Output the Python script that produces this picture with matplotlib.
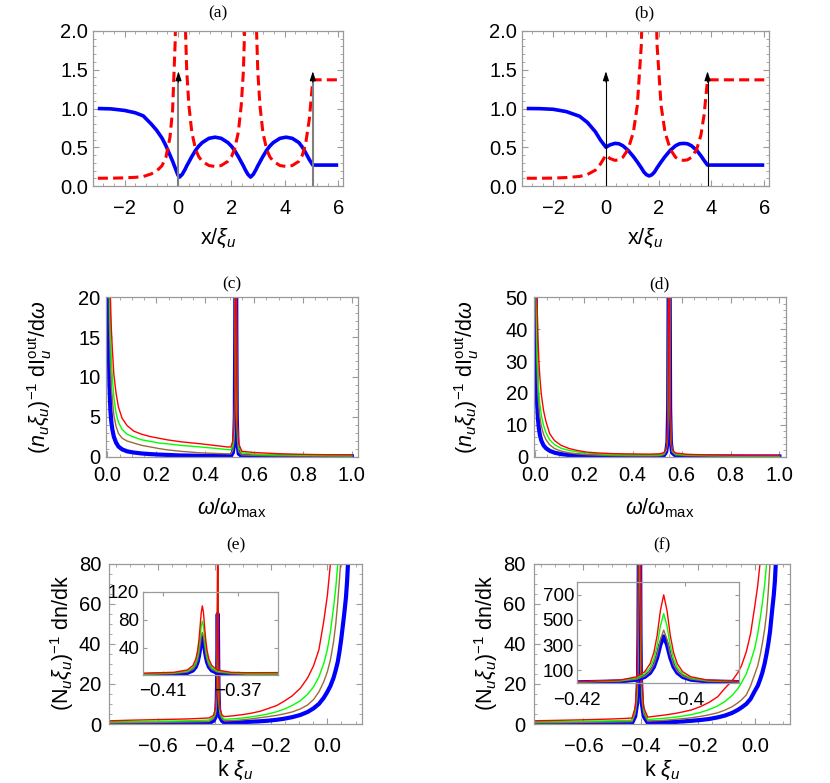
import numpy as np
import matplotlib.pyplot as plt
from matplotlib.ticker import AutoMinorLocator, FuncFormatter, MultipleLocator

plt.rcParams['font.family'] = ['Liberation Sans', 'DejaVu Sans']
plt.rcParams['mathtext.fontset'] = 'custom'
plt.rcParams['mathtext.rm'] = 'Liberation Sans'
plt.rcParams['mathtext.it'] = 'Liberation Sans:italic'

# ---------------- (a) density profile / velocity -----------------
xa = [-3.00, -2.50, -2.00, -1.60, -1.30, -1.00, -0.80, -0.60, -0.45, -0.30, -0.20, -0.10,
      0.00, 0.06, 0.16, 0.26, 0.33, 0.41, 0.52, 0.66, 0.78, 0.91, 1.16, 1.39, 1.62, 1.87,
      2.00, 2.12, 2.26, 2.37, 2.45, 2.52, 2.62, 2.72, 2.82, 2.92, 2.99, 3.07, 3.18, 3.32,
      3.44, 3.57, 3.82, 4.05, 4.28, 4.53, 4.66, 4.78, 4.92, 5.05, 6.00]
blue_a = [1.000, 0.995, 0.975, 0.945, 0.905, 0.800, 0.720, 0.620, 0.520, 0.400, 0.320, 0.230,
          0.140, 0.115, 0.150, 0.210, 0.260, 0.310, 0.380, 0.460, 0.515, 0.560, 0.615, 0.630,
          0.615, 0.560, 0.515, 0.460, 0.380, 0.310, 0.260, 0.210, 0.150, 0.115, 0.150, 0.210,
          0.260, 0.310, 0.380, 0.460, 0.515, 0.560, 0.615, 0.630, 0.615, 0.560, 0.500, 0.430,
          0.340, 0.270, 0.270]
red_a = [0.100, 0.101, 0.105, 0.112, 0.122, 0.156, 0.193, 0.260, 0.370, 0.625, 0.977, 1.890,
         5.10, 7.56, 4.44, 2.27, 1.48, 1.04, 0.693, 0.473, 0.377, 0.319, 0.264, 0.252,
         0.264, 0.319, 0.377, 0.473, 0.693, 1.04, 1.48, 2.27, 4.44, 7.56, 4.44, 2.27,
         1.48, 1.04, 0.693, 0.473, 0.377, 0.319, 0.264, 0.252, 0.264, 0.319, 0.400, 0.541,
         0.865, 1.37, 1.37]
arrows_a = [0.02, 5.05]

# ---------------- (b) -----------------
xb = [-3.0, -2.5, -2.0, -1.5, -1.0, -0.7, -0.4, -0.2, 0.0, 0.15, 0.34, 0.49, 0.64, 0.84,
      1.04, 1.19, 1.34, 1.44, 1.54, 1.64, 1.74, 1.84, 1.94, 2.09, 2.24, 2.44, 2.64, 2.79,
      2.94, 3.09, 3.24, 3.44, 3.60, 3.72, 3.85, 6.0]
blue_b = [1.0, 0.998, 0.99, 0.96, 0.90, 0.82, 0.70, 0.59, 0.50, 0.53, 0.55, 0.545, 0.52, 0.46,
          0.38, 0.31, 0.235, 0.18, 0.145, 0.13, 0.145, 0.18, 0.235, 0.31, 0.38, 0.46, 0.52,
          0.545, 0.55, 0.545, 0.52, 0.46, 0.39, 0.33, 0.27, 0.27]
red_b = [0.100, 0.100, 0.102, 0.109, 0.123, 0.149, 0.204, 0.287, 0.400, 0.356, 0.331, 0.337,
         0.370, 0.473, 0.693, 1.04, 1.81, 3.09, 4.76, 5.92, 4.76, 3.09, 1.81, 1.04, 0.693,
         0.473, 0.370, 0.337, 0.331, 0.337, 0.370, 0.473, 0.657, 0.918, 1.37, 1.37]
arrows_b = [0.0, 3.85]
arrow_top = 1.48

# ---------------- (c) spectrum -----------------
w_c = [0.002, 0.005, 0.008, 0.012, 0.016, 0.02, 0.026, 0.035, 0.045, 0.06, 0.08, 0.107,
       0.14, 0.176, 0.21, 0.244, 0.3, 0.38, 0.45, 0.49, 0.505, 0.513, 0.518, 0.521, 0.523,
       0.525, 0.527, 0.529, 0.532, 0.537, 0.55, 0.6, 0.7, 0.8, 0.9, 1.0]
red_c = [120, 48, 30, 20, 16, 13.5, 10.4, 8.0, 6.2, 4.8, 3.9, 3.2, 2.8, 2.5, 2.3, 2.1, 1.85,
         1.6, 1.35, 1.2, 1.2, 2.0, 4, 9, 25, 60, 25, 9, 4, 1.6, 0.65, 0.5, 0.35, 0.27, 0.22, 0.2]
green_c = [90, 36, 22, 15.5, 12, 10, 7.5, 5.5, 4.3, 3.4, 2.8, 2.45, 2.1, 1.9, 1.7, 1.6, 1.4,
           1.2, 1.0, 0.87, 0.85, 1.4, 3, 7.5, 22, 60, 22, 7.5, 3, 1.1, 0.45, 0.3, 0.2, 0.15,
           0.12, 0.1]
brown_c = [70, 28, 17, 11.5, 8.8, 7.2, 5.2, 3.8, 2.9, 2.3, 1.95, 1.7, 1.4, 1.2, 1.0, 0.84,
           0.65, 0.46, 0.38, 0.34, 0.33, 0.8, 2, 5.5, 18, 60, 18, 5.5, 2, 0.6, 0.2, 0.14, 0.09,
           0.07, 0.06, 0.05]
blue_c = [38, 15, 9, 5.8, 4.3, 3.4, 2.5, 1.75, 1.25, 0.9, 0.65, 0.5, 0.38, 0.3, 0.24, 0.2,
          0.13, 0.09, 0.07, 0.06, 0.06, 0.5, 1.6, 5, 17, 60, 17, 5, 1.6, 0.35, 0.04, 0.03,
          0.02, 0.015, 0.012, 0.01]

# ---------------- (d) -----------------
w_d = [0.002, 0.005, 0.008, 0.012, 0.016, 0.02, 0.026, 0.035, 0.045, 0.06, 0.08, 0.107,
       0.14, 0.176, 0.21, 0.26, 0.32, 0.4, 0.47, 0.51, 0.528, 0.537, 0.542, 0.545, 0.547,
       0.549, 0.551, 0.553, 0.556, 0.561, 0.575, 0.62, 0.7, 0.8, 0.9, 1.0]
red_d = [160, 70, 50, 38, 30, 25, 19.5, 14.5, 11, 7.2, 5.0, 3.5, 2.5, 1.85, 1.4, 1.1, 0.9,
         0.8, 0.75, 0.85, 1.2, 2.5, 6, 18, 60, 150, 60, 18, 6, 2.2, 1.1, 0.7, 0.5, 0.4, 0.33, 0.3]
green_d = [120, 55, 36, 26, 20, 16.5, 13, 9.8, 7.5, 5.3, 3.7, 2.6, 1.9, 1.4, 1.1, 0.8, 0.6,
           0.48, 0.45, 0.5, 0.9, 2.2, 5.5, 17, 58, 150, 58, 17, 5.5, 1.9, 0.8, 0.5, 0.33, 0.25,
           0.2, 0.17]
brown_d = [100, 45, 29, 20, 15.5, 12.5, 9.6, 7.0, 5.3, 3.7, 2.5, 1.7, 1.15, 0.8, 0.6, 0.42,
           0.3, 0.22, 0.2, 0.25, 0.6, 1.8, 5, 16, 56, 150, 56, 16, 5, 1.5, 0.5, 0.3, 0.18, 0.12,
           0.1, 0.08]
blue_d = [70, 30, 18, 12, 8.8, 6.8, 5.0, 3.5, 2.6, 1.8, 1.2, 0.75, 0.45, 0.3, 0.2, 0.13, 0.09,
          0.06, 0.05, 0.08, 0.4, 1.5, 4.5, 15, 55, 150, 55, 15, 4.5, 1.2, 0.3, 0.1, 0.05, 0.03,
          0.02, 0.02]

# ---------------- (e) momentum distribution -----------------
k_e = ([-0.77, -0.70, -0.60, -0.50, -0.45, -0.42]
       + [-0.4042, -0.397, -0.394, -0.3925, -0.3915, -0.3908, -0.3902, -0.3896, -0.389,
          -0.3884, -0.3878, -0.3872, -0.3865, -0.3855, -0.384, -0.381, -0.3738]
       + [-0.365, -0.333, -0.30, -0.273, -0.24, -0.214, -0.18, -0.155, -0.125, -0.096, -0.07,
          -0.049, -0.03, -0.013, 0.0, 0.011, 0.022, 0.03, 0.037, 0.043, 0.049, 0.055, 0.06,
          0.066, 0.07, 0.074, 0.078])
red_e = ([1.6, 1.9, 2.2, 2.5, 2.8, 3.0]
         + [4.3, 7.7, 14.2, 23.3, 36.1, 51.5, 70.1, 90.3, 100, 90.3, 70.1, 51.5, 36.1, 23.3,
            14.2, 7.7, 4.3]
         + [3.7, 4.1, 4.7, 5.3, 6.3, 7.5, 9.2, 11.2, 14, 17.8, 23, 29, 37, 51, 64, 80, 105,
            130, 160, 190, 230, 280, 330, 390, 440, 500, 560])
green_e = ([1.0, 1.15, 1.35, 1.6, 1.8, 1.95]
           + [3.5, 6.1, 11.2, 18.3, 28.2, 40.3, 54.7, 70.5, 78, 70.5, 54.7, 40.3, 28.2, 18.3,
              11.2, 6.1, 3.5]
           + [2.3, 2.6, 3.0, 3.5, 4.2, 4.9, 6.1, 7.3, 9.2, 11.6, 14.8, 18.5, 23.5, 30, 37, 46,
              58, 68, 80, 95, 115, 140, 170, 210, 250, 300, 360])
brown_e = ([0.55, 0.65, 0.8, 1.0, 1.15, 1.25]
           + [2.6, 4.7, 8.7, 14.3, 22.3, 31.8, 43.3, 55.8, 61.8, 55.8, 43.3, 31.8, 22.3, 14.3,
              8.7, 4.7, 2.6]
           + [1.5, 1.75, 2.1, 2.5, 3.1, 3.6, 4.3, 5.0, 6.0, 7.5, 9.5, 12.2, 16, 21, 26, 32, 41,
              50, 61, 72, 84, 104, 125, 155, 180, 210, 250])
blue_e = ([0.2, 0.25, 0.3, 0.4, 0.45, 0.5]
          + [1.55, 3.4, 7.0, 12.1, 19.2, 27.8, 38.2, 49.4, 54.8, 49.4, 38.2, 27.8, 19.2, 12.1,
             7.0, 3.4, 1.55]
          + [0.65, 0.75, 0.9, 1.1, 1.35, 1.6, 2.1, 2.6, 3.4, 4.5, 6.0, 7.8, 10, 13, 16, 19, 23,
             27, 31, 36, 42, 49, 55, 63, 71, 82, 100])

# ---------------- (f) -----------------
k_f = ([-0.775, -0.70, -0.60, -0.50, -0.45, -0.43]
       + [-0.419, -0.412, -0.409, -0.4075, -0.4065, -0.4058, -0.4052, -0.4046, -0.404,
          -0.4034, -0.4028, -0.4022, -0.4015, -0.4005, -0.399, -0.396, -0.389]
       + [-0.375, -0.36, -0.33, -0.30, -0.281, -0.25, -0.222, -0.19, -0.16, -0.13, -0.105,
          -0.08, -0.06, -0.047, -0.03, -0.015, 0.0, 0.01, 0.018, 0.026, 0.034, 0.041, 0.047,
          0.053, 0.06, 0.066, 0.07, 0.074, 0.078])
red_f = ([1.6, 1.8, 2.1, 2.5, 2.8, 3.0]
         + [8.2, 21, 47, 87, 151, 242, 379, 577, 700, 577, 379, 242, 151, 87, 47, 21, 8.2]
         + [3.4, 3.7, 4.2, 4.8, 5.2, 6.1, 7.0, 8.7, 10.8, 13.6, 17.8, 21.5, 25.5, 29, 36, 45,
            59, 69, 80, 100, 125, 150, 180, 220, 270, 320, 360, 400, 450])
green_f = ([1.0, 1.15, 1.35, 1.6, 1.8, 1.9]
           + [7.1, 17, 37.5, 69, 120, 191, 298, 454, 550, 454, 298, 191, 120, 69, 37.5, 17, 7.1]
           + [2.2, 2.4, 2.7, 3.1, 3.4, 4.0, 4.7, 5.8, 7.2, 9.0, 11.2, 14.2, 17.5, 20.5, 25, 31,
              38, 45, 52, 60, 69, 80, 95, 115, 140, 170, 200, 240, 280])
brown_f = ([0.55, 0.65, 0.8, 1.0, 1.1, 1.2]
           + [5.1, 12.7, 28, 52, 91, 145, 227, 346, 419, 346, 227, 145, 91, 52, 28, 12.7, 5.1]
           + [1.4, 1.55, 1.75, 2.05, 2.3, 2.7, 3.1, 3.8, 4.6, 5.6, 6.9, 8.6, 10.5, 12, 14.5, 19,
              25, 29, 34, 40, 47, 55, 66, 80, 98, 120, 140, 165, 200])
blue_f = ([0.2, 0.25, 0.3, 0.4, 0.45, 0.5]
          + [3.8, 10.5, 24, 45.5, 79, 127, 200, 304, 369, 304, 200, 127, 79, 45.5, 24, 10.5, 3.8]
          + [0.6, 0.7, 0.8, 0.9, 1.0, 1.3, 1.6, 2.0, 2.5, 3.3, 4.2, 5.5, 7.0, 8.2, 10, 12.5,
             16.5, 19, 22, 25.5, 30, 35, 40, 46, 56, 64, 71, 82, 100])

RED, GREEN, BROWN, BLUE = '#ff0000', '#00ff00', '#9c6a3a', '#0000ff'
FRAME = '#9a9a9a'
W, H = 830, 783
TICK_FS = 14.5
LAB_FS = 15.5

fig = plt.figure(figsize=(8.3, 7.83), dpi=100)


def add_ax(x0, y0, x1, y1):
    return fig.add_axes([x0 / W, 1 - y1 / H, (x1 - x0) / W, (y1 - y0) / H])


def fmt(dec):
    def f(v, pos):
        if abs(v) < 1e-9:
            v = 0.0
        return f'{v:.{dec}f}'.replace('-', '\u2212')
    return FuncFormatter(f)


def style(ax, xpad, ypad, size=TICK_FS):
    for s in ax.spines.values():
        s.set_color(FRAME)
        s.set_linewidth(0.9)
    ax.tick_params(which='both', direction='in', top=True, right=True, color=FRAME,
                   labelsize=size)
    ax.tick_params(which='major', length=4, width=0.8)
    ax.tick_params(which='minor', length=2.2, width=0.6)
    ax.tick_params(axis='x', pad=xpad)
    ax.tick_params(axis='y', pad=ypad)


def label_at(ax, xl, yl, xlab_px, ylab_px):
    if xl:
        ax.set_xlabel(xl, fontsize=LAB_FS)
        ax.xaxis.label.set_va('center')
        ax.xaxis.set_label_coords(xlab_px[0] / W, 1 - xlab_px[1] / H, transform=fig.transFigure)
    if yl:
        ax.set_ylabel(yl, fontsize=LAB_FS)
        ax.yaxis.label.set_va('center')
        ax.yaxis.set_label_coords(ylab_px[0] / W, 1 - ylab_px[1] / H, transform=fig.transFigure)


def title_at(txt, x, y):
    fig.text(x / W, 1 - y / H, txt, ha='center', va='center', fontsize=12.5,
             family='Liberation Serif')


# ---- top row ----
for ax_box, xs, bl, rd, arrows, arrow_col, arrow_lw, title, tx in [
        ((93, 31, 343, 186), xa, blue_a, red_a, arrows_a, '#7f7f7f', 1.5, '(a)', 218),
        ((522, 31, 769, 186), xb, blue_b, red_b, arrows_b, 'k', 0.8, '(b)', 644)]:
    ax = add_ax(*ax_box)
    ax.plot(xs, bl, color=BLUE, lw=2.6, solid_capstyle='butt')
    ax.plot(xs, rd, color=RED, lw=2.2, dashes=(3.3, 1.7))
    for xv in arrows:
        ax.plot([xv, xv], [0, arrow_top - 0.1], color=arrow_col, lw=arrow_lw, zorder=5)
        ax.annotate('', xy=(xv, arrow_top), xytext=(xv, arrow_top - 0.14),
                    arrowprops=dict(arrowstyle='-|>,head_length=0.55,head_width=0.18',
                                    color='k', lw=0.8, shrinkA=0, shrinkB=0), zorder=6)
    ax.set_xlim(-3.18, 6.18)
    ax.set_ylim(0, 2)
    ax.xaxis.set_major_locator(MultipleLocator(2))
    ax.xaxis.set_minor_locator(AutoMinorLocator(5))
    ax.yaxis.set_major_locator(MultipleLocator(0.5))
    ax.yaxis.set_minor_locator(AutoMinorLocator(5))
    ax.xaxis.set_major_formatter(fmt(0))
    ax.yaxis.set_major_formatter(fmt(1))
    style(ax, 9, 3.4)
    label_at(ax, r'x/$\xi_u$', None, ((ax_box[0] + ax_box[2]) / 2, 238), None)
    title_at(title, tx, 13)

# ---- middle row ----
ylab_c = r'$(n_u\xi_u)^{-1}\ \mathrm{dI}_u^{\mathrm{out}}/\mathrm{d}\omega$'
for ax_box, w, curves, ymax, ymaj, title, ylx in [
        ((106, 297.5, 358, 456.5), w_c, (red_c, green_c, brown_c, blue_c), 20, 5, '(c)', 40),
        ((533.5, 297.5, 785.5, 456.5), w_d, (red_d, green_d, brown_d, blue_d), 50, 10, '(d)', 467)]:
    ax = add_ax(*ax_box)
    r, g, b, bl = curves
    ax.plot(w, bl, color=BLUE, lw=3.0)
    ax.plot(w, b, color=BROWN, lw=1.0)
    ax.plot(w, g, color=GREEN, lw=1.0)
    ax.plot(w, r, color=RED, lw=1.0)
    ax.set_xlim(-0.006, 1.025)
    ax.set_ylim(0, ymax)
    ax.xaxis.set_major_locator(MultipleLocator(0.2))
    ax.xaxis.set_minor_locator(AutoMinorLocator(4))
    ax.yaxis.set_major_locator(MultipleLocator(ymaj))
    ax.yaxis.set_minor_locator(AutoMinorLocator(5))
    ax.xaxis.set_major_formatter(fmt(1))
    ax.yaxis.set_major_formatter(fmt(0))
    style(ax, 7, 4.0)
    cx = (ax_box[0] + ax_box[2]) / 2
    label_at(ax, r'$\omega/\omega_{\mathrm{max}}$', ylab_c, (cx, 508), (ylx, 377))
    title_at(title, cx, 284)

# ---- bottom row ----
ylab_e = r'$(\mathrm{N}_u\xi_u)^{-1}$ dn/dk'
bottom = [
    ((109, 563.5, 362, 724), k_e, (red_e, green_e, brown_e, blue_e), '(e)', 62,
     (142.7, 592, 278.3, 675.3), (-0.4208, -0.3485), (0, 120), [-0.41, -0.37],
     ['\u22120.41', '\u22120.37'], [40, 80, 120], 2.5, 5.5),
    ((533.5, 563.5, 790, 724), k_f, (red_f, green_f, brown_f, blue_f), '(f)', 486,
     (576.7, 582.3, 739.3, 682.7), (-0.4197, -0.3901), (0, 800), [-0.42, -0.40],
     ['\u22120.42', '\u22120.4'], [100, 300, 500, 700], 1.8, 7),
]
for (ax_box, k, curves, title, ylx, in_box, in_xl, in_yl, in_xt, in_xtl, in_yt,
     in_ypad, in_xpad) in bottom:
    ax = add_ax(*ax_box)
    r, g, b, bl = curves
    ax.plot(k, bl, color=BLUE, lw=3.0)
    ax.plot(k, b, color=BROWN, lw=1.0)
    ax.plot(k, g, color=GREEN, lw=1.0)
    ax.plot(k, r, color=RED, lw=1.0)
    ax.set_xlim(-0.775, 0.123)
    ax.set_ylim(0, 80)
    ax.xaxis.set_major_locator(MultipleLocator(0.2))
    ax.xaxis.set_minor_locator(AutoMinorLocator(4))
    ax.yaxis.set_major_locator(MultipleLocator(20))
    ax.yaxis.set_minor_locator(AutoMinorLocator(4))
    ax.xaxis.set_major_formatter(fmt(1))
    ax.yaxis.set_major_formatter(fmt(0))
    style(ax, 9, 5.5)
    cx = (ax_box[0] + ax_box[2]) / 2
    label_at(ax, r'k $\xi_u$', ylab_e, (cx, 770), (ylx, 643))
    title_at(title, cx, 545)

    ins = add_ax(*in_box)
    ins.set_facecolor('none')
    ins.plot(k, bl, color=BLUE, lw=3.0)
    ins.plot(k, b, color=BROWN, lw=1.0)
    ins.plot(k, g, color=GREEN, lw=1.0)
    ins.plot(k, r, color=RED, lw=1.0)
    ins.set_xlim(*in_xl)
    ins.set_ylim(*in_yl)
    ins.set_xticks(in_xt)
    ins.set_xticklabels(in_xtl)
    ins.set_yticks(in_yt)
    style(ins, in_xpad, in_ypad, size=13.5)
    ins.tick_params(which='major', length=3)

fig.savefig('out.png', dpi=100)
